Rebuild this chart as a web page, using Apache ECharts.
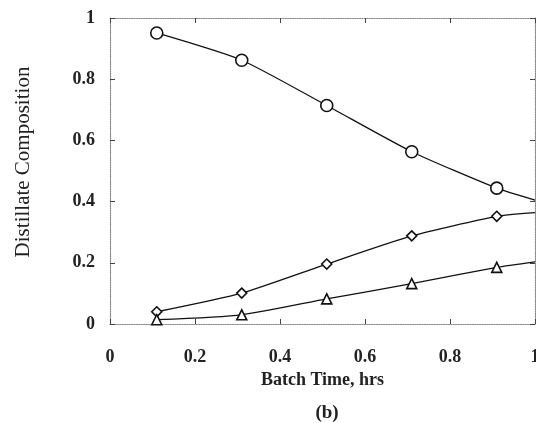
<!DOCTYPE html>
<html>
<head>
<meta charset="utf-8">
<script src="https://cdn.jsdelivr.net/npm/echarts@6/dist/echarts.min.js"></script>
<style>html,body{margin:0;padding:0;background:#fff;}#c{width:536px;height:423px;}</style>
</head>
<body>
<div id="c"></div>
<script>
// Data
var batchTime = [0.11, 0.31, 0.51, 0.71, 0.91, 1.0];
var circleComp = [0.951, 0.862, 0.714, 0.563, 0.444, 0.405];
var diamondComp = [0.040, 0.101, 0.196, 0.288, 0.352, 0.364];
var triangleComp = [0.014, 0.030, 0.082, 0.132, 0.185, 0.203];
var markerCount = 5; // last point is the curve's end at the frame edge (no marker)
var xTicks = [0, 0.2, 0.4, 0.6, 0.8, 1];
var yTicks = [0, 0.2, 0.4, 0.6, 0.8, 1];

function build(vals) {
  return batchTime.map(function (t, i) {
    var item = { value: [t, vals[i]] };
    if (i >= markerCount) item.symbol = 'none';
    return item;
  });
}

var fontSerif = '"Liberation Serif", "DejaVu Serif", serif';
var frame = { show: true, onZero: false, lineStyle: { color: '#8a8a8a', type: 'dotted', width: 1.2 } };
var ticksIn = { show: true, inside: true, length: 5, lineStyle: { color: '#444', width: 1 } };

function labelFmt(v) { return v === 0 ? '0' : (v === 1 ? '1' : String(v)); }

var chart = echarts.init(document.getElementById('c'), null, { renderer: 'canvas' });
var lineCommon = {
  type: 'line', smooth: 0.2, showAllSymbol: true,
  lineStyle: { color: '#111', width: 1.3 },
  itemStyle: { color: '#fff', borderColor: '#111', borderWidth: 1.6 },
  emphasis: { disabled: true }, animation: false, z: 3
};
chart.setOption({
  backgroundColor: '#fff',
  animation: false,
  grid: { left: 110, right: 1, top: 18, bottom: 99, containLabel: false, outerBoundsMode: 'none' },
  xAxis: [{
    type: 'value', min: 0, max: 1, interval: 0.2, position: 'bottom',
    axisLine: frame, axisTick: ticksIn, splitLine: { show: false },
    axisLabel: { margin: 24, color: '#222', fontFamily: fontSerif, fontWeight: 'bold', fontSize: 18, formatter: labelFmt },
    name: 'Batch Time, hrs', nameLocation: 'middle', nameGap: 47,
    nameTextStyle: { color: '#222', fontFamily: fontSerif, fontWeight: 'bold', fontSize: 18 }
  }, {
    type: 'value', min: 0, max: 1, interval: 0.2, position: 'top',
    axisLine: frame, axisTick: ticksIn, axisLabel: { show: false }, splitLine: { show: false }
  }],
  yAxis: [{
    type: 'value', min: 0, max: 1, interval: 0.2, position: 'left',
    axisLine: frame, axisTick: ticksIn, splitLine: { show: false },
    axisLabel: { margin: 15, color: '#222', fontFamily: fontSerif, fontWeight: 'bold', fontSize: 18, formatter: labelFmt }
  }, {
    type: 'value', min: 0, max: 1, interval: 0.2, position: 'right',
    axisLine: frame, axisTick: ticksIn, axisLabel: { show: false }, splitLine: { show: false }
  }],
  graphic: [{
    type: 'text', x: 23, y: 162, rotation: Math.PI / 2,
    style: { text: 'Distillate Composition', fill: '#222', font: '21px ' + fontSerif, align: 'center', verticalAlign: 'middle' }
  }, {
    type: 'text', x: 327, y: 413,
    style: { text: '(b)', fill: '#222', font: 'bold 19px ' + fontSerif, align: 'center', verticalAlign: 'middle' }
  }],
  series: [
    Object.assign({}, lineCommon, { name: 'circle', symbol: 'circle', symbolSize: 12, data: build(circleComp) }),
    Object.assign({}, lineCommon, { name: 'diamond', symbol: 'diamond', symbolSize: 10, data: build(diamondComp) }),
    Object.assign({}, lineCommon, { name: 'triangle', symbol: 'triangle', symbolSize: 10, data: build(triangleComp) })
  ]
});
</script>
</body>
</html>
